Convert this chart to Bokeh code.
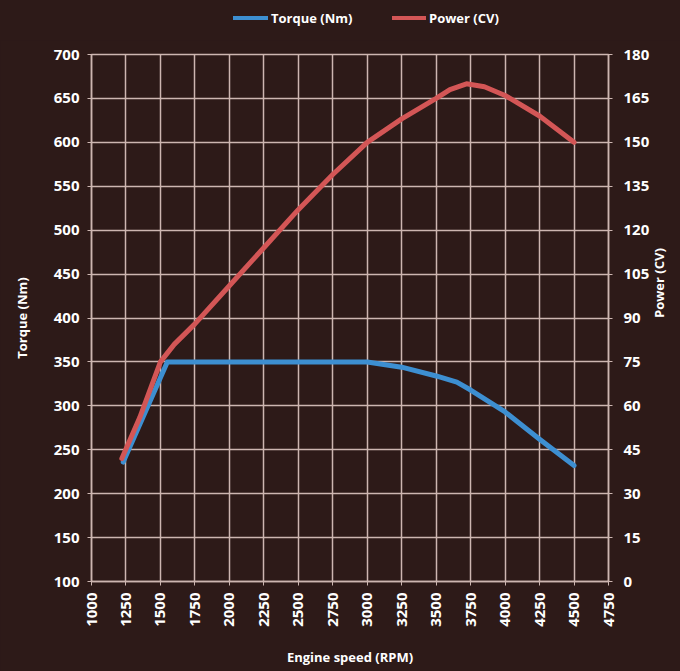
from bokeh.plotting import figure
from bokeh.models import Range1d, LinearAxis, FixedTicker, Div
from bokeh.layouts import column
from bokeh.embed import file_html
from bokeh.resources import INLINE

# ---- data ----
rpm_torque = [1230, 1550, 1750, 2000, 2500, 3000, 3250, 3500, 3650, 3750, 4000, 4250, 4500]
torque_nm = [236, 350, 350, 350, 350, 350, 344, 334, 327, 318, 293, 262, 232]

rpm_power = [1220, 1350, 1500, 1600, 1750, 2000, 2250, 2500, 2750, 3000, 3250, 3500, 3600, 3720, 3850, 4000, 4250, 4500]
power_cv = [42, 56, 75, 81, 88, 101, 114, 127, 139, 150, 158, 165, 168, 170, 169, 166, 159, 150]

series_names = ["Torque (Nm)", "Power (CV)"]

x_ticks = list(range(1000, 4751, 250))
torque_ticks = list(range(100, 701, 50))
power_ticks = list(range(0, 181, 15))

BG = "#2d1a18"
GRID = "#cdb6b1"
BLUE = "#3d8fd1"
RED = "#d35656"
FONT = "Open Sans"

# ---- legend strip (HTML) ----
LEG_H = 40
leg_html = (
    f'<div style="position:relative;width:680px;height:{LEG_H}px;background:{BG};'
    f'font-family:\'{FONT}\';font-weight:bold;font-size:13px;color:white;line-height:18px">'
    f'<span style="position:absolute;left:233px;top:16px;width:35px;height:4px;background:{BLUE}"></span>'
    f'<span style="position:absolute;left:271px;top:9px;white-space:nowrap">{series_names[0]}</span>'
    f'<span style="position:absolute;left:392px;top:16px;width:34px;height:4px;background:{RED}"></span>'
    f'<span style="position:absolute;left:429px;top:9px;white-space:nowrap">{series_names[1]}</span>'
    f'</div>'
)
leg = Div(text=leg_html, width=680, height=LEG_H, margin=0,
          styles={"background-color": BG})

# ---- main chart ----
p = figure(width=680, height=671 - LEG_H, output_backend="svg", toolbar_location=None,
           x_range=Range1d(1000, 4750), y_range=Range1d(100, 700),
           min_border_left=91, min_border_right=70, min_border_top=54 - LEG_H, min_border_bottom=90,
           margin=0)
p.extra_y_ranges = {"power": Range1d(0, 180)}

p.background_fill_color = BG
p.border_fill_color = BG
p.outline_line_color = GRID
p.outline_line_width = 1.5

p.xgrid.ticker = FixedTicker(ticks=x_ticks)
p.ygrid.ticker = FixedTicker(ticks=torque_ticks)
for g in (p.xgrid, p.ygrid):
    g.grid_line_color = GRID
    g.grid_line_width = 1.5

p.xaxis.ticker = FixedTicker(ticks=x_ticks)
p.yaxis.ticker = FixedTicker(ticks=torque_ticks)

right = LinearAxis(y_range_name="power", ticker=FixedTicker(ticks=power_ticks))
p.add_layout(right, "right")

p.xaxis.axis_label = "Engine speed (RPM)"
p.yaxis[0].axis_label = series_names[0]
right.axis_label = series_names[1]

for ax in p.axis:
    ax.axis_line_color = GRID
    ax.axis_line_width = 1.5
    ax.major_tick_line_color = GRID
    ax.major_tick_in = 0
    ax.major_tick_out = 4
    ax.minor_tick_line_color = None
    ax.major_label_text_color = "white"
    ax.major_label_text_font = FONT
    ax.major_label_text_font_style = "bold"
    ax.major_label_text_font_size = "15px"
    ax.axis_label_text_color = "white"
    ax.axis_label_text_font = FONT
    ax.axis_label_text_font_style = "bold"
    ax.axis_label_text_font_size = "13px"

p.xaxis.major_label_orientation = 1.5708
p.xaxis.major_label_standoff = 7
p.xaxis.axis_label_standoff = 18
p.yaxis[0].major_label_standoff = 8
p.yaxis[0].axis_label_standoff = 20
right.major_label_standoff = 11
right.axis_label_standoff = 7
right.axis_label_orientation = 1.5708

p.line(rpm_torque, torque_nm, line_color=BLUE, line_width=5, line_join="round", line_cap="round")
p.line(rpm_power, power_cv, line_color=RED, line_width=5, line_join="round", line_cap="round",
       y_range_name="power")

layout = column(leg, p, spacing=0, margin=0, styles={"background-color": BG})

open("out.html", "w").write(file_html(layout, INLINE))
